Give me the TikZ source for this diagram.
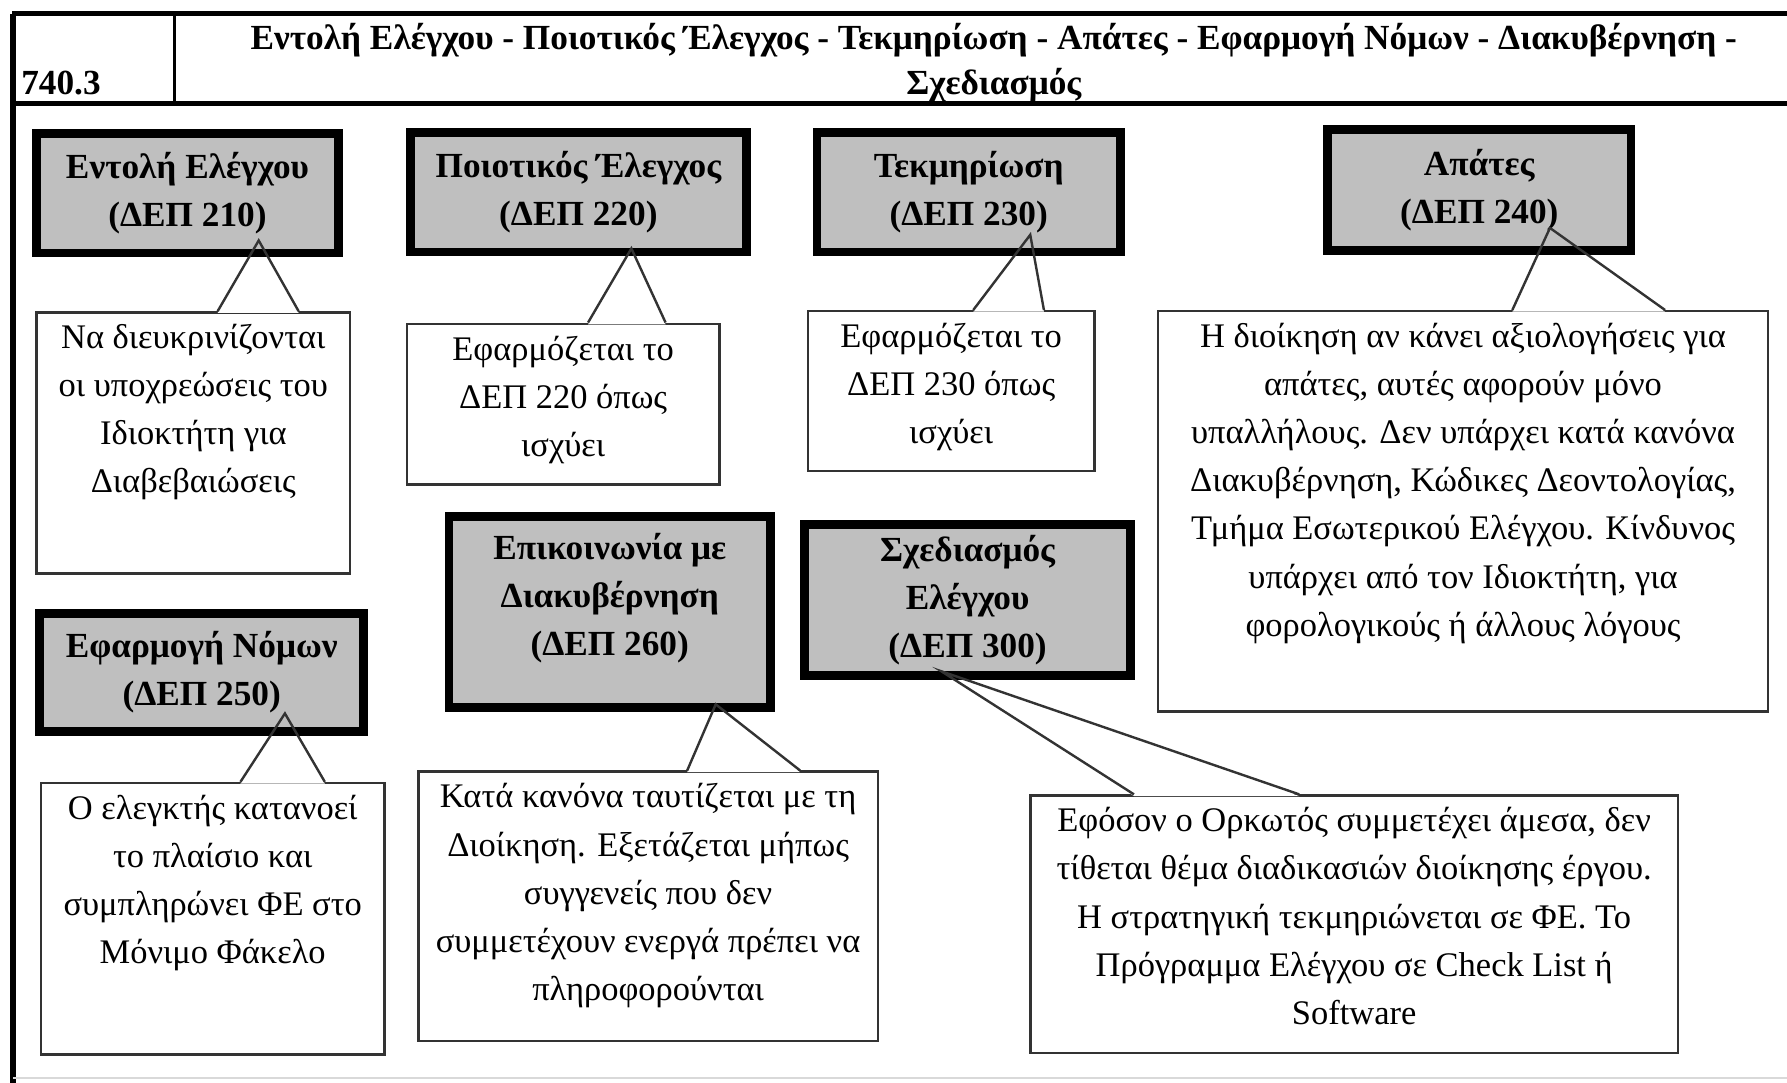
\documentclass[tikz,border=0pt]{standalone}
\usepackage{fontspec}
\setmainfont{Liberation Serif}
\usetikzlibrary{positioning,calc}

\begin{document}
\begin{tikzpicture}[
    x=0.01cm, y=-0.01cm,
    frame/.style={line width=1.2pt},
    isabox/.style={rectangle, draw, line width=2.2pt, fill=gray!50, align=center, inner sep=0pt,
                   font=\fontsize{8.8}{11.95}\selectfont\bfseries},
    note/.style={rectangle, draw=black!80, line width=0.6pt, fill=white, inner sep=0pt, anchor=north west},
    notetext/.style={align=center, inner sep=0pt, execute at begin node=\strut, font=\fontsize{8.6}{12}\selectfont},
    headtext/.style={inner sep=0pt, anchor=base, font=\fontsize{8.8}{11}\selectfont\bfseries},
    pointer/.style={draw=black!80, line width=0.6pt}
]
\useasboundingbox (0,0) rectangle (1568,950);

% frame and header row
\draw[frame, line width=1.5pt] (11.5,950) -- (11.5,12);
\draw[frame] (10.8,12) -- (1568,12);
\draw[frame] (11.5,90.5) -- (1568,90.5);
\draw[line width=0.9pt] (153,12) -- (153,90.5);
\draw[gray!30, line width=0.5pt] (11.5,946) -- (1568,946);

\node[headtext, anchor=base west] (code) at (18,83) {740.3};
\node[headtext] (title1) at (872,43) {Εντολή Ελέγχου - Ποιοτικός Έλεγχος - Τεκμηρίωση - Απάτες - Εφαρμογή Νόμων - Διακυβέρνηση -};
\node[headtext] (title2) at (872,83) {Σχεδιασμός};

% callout boxes
\node[note, minimum width=2.75cm, minimum height=2.29cm] (note210) at (31,273) {};
\node[note, minimum width=2.74cm, minimum height=1.41cm] (note220) at (356,283) {};
\node[note, minimum width=2.51cm, minimum height=1.40cm] (note230) at (708,272) {};
\node[note, minimum width=5.35cm, minimum height=3.51cm] (note240) at (1015,272) {};
\node[note, minimum width=3.01cm, minimum height=2.38cm] (note250) at (35,686) {};
\node[note, minimum width=4.03cm, minimum height=2.36cm] (note260) at (366,676) {};
\node[note, minimum width=5.68cm, minimum height=2.26cm] (note300) at (903,697) {};

\node[notetext, below=3.1pt of note210.north] (txt210) {Να διευκρινίζονται\\οι υποχρεώσεις του\\Ιδιοκτήτη για\\Διαβεβαιώσεις};
\node[notetext, below=3.1pt of note220.north] (txt220) {Εφαρμόζεται το\\ΔΕΠ 220 όπως\\ισχύει};
\node[notetext, below=3.1pt of note230.north] (txt230) {Εφαρμόζεται το\\ΔΕΠ 230 όπως\\ισχύει};
\node[notetext, below=3.1pt of note240.north] (txt240) {Η διοίκηση αν κάνει αξιολογήσεις για\\απάτες, αυτές αφορούν μόνο\\υπαλλήλους. Δεν υπάρχει κατά κανόνα\\Διακυβέρνηση, Κώδικες Δεοντολογίας,\\Τμήμα Εσωτερικού Ελέγχου. Κίνδυνος\\υπάρχει από τον Ιδιοκτήτη, για\\φορολογικούς ή άλλους λόγους};
\node[notetext, below=3.1pt of note250.north] (txt250) {Ο ελεγκτής κατανοεί\\το πλαίσιο και\\συμπληρώνει ΦΕ στο\\Μόνιμο Φάκελο};
\node[notetext, below=3.1pt of note260.north] (txt260) {Κατά κανόνα ταυτίζεται με τη\\Διοίκηση. Εξετάζεται μήπως\\συγγενείς που δεν\\συμμετέχουν ενεργά πρέπει να\\πληροφορούνται};
\node[notetext, below=3.1pt of note300.north] (txt300) {Εφόσον ο Ορκωτός συμμετέχει άμεσα, δεν\\τίθεται θέμα διαδικασιών διοίκησης έργου.\\Η στρατηγική τεκμηριώνεται σε ΦΕ. Το\\Πρόγραμμα Ελέγχου σε Check List ή\\Software};

% pointer feet on the callouts, tips inside the grey boxes
\coordinate (a210) at ($(note210.north west)+(160,0)$);
\coordinate (b210) at ($(note210.north west)+(231,0)$);
\coordinate (t210) at (227,211);
\coordinate (a220) at ($(note220.north west)+(160,0)$);
\coordinate (b220) at ($(note220.north west)+(228,0)$);
\coordinate (t220) at (554,218);
\coordinate (a230) at ($(note230.north west)+(146,0)$);
\coordinate (b230) at ($(note230.north west)+(208,0)$);
\coordinate (t230) at (904,206);
\coordinate (a240) at ($(note240.north west)+(312,0)$);
\coordinate (b240) at ($(note240.north west)+(446,0)$);
\coordinate (t240) at (1360,200);
\coordinate (a250) at ($(note250.north west)+(176,0)$);
\coordinate (b250) at ($(note250.north west)+(250,0)$);
\coordinate (t250) at (250,626);
\coordinate (a260) at ($(note260.north west)+(237,0)$);
\coordinate (b260) at ($(note260.north west)+(336,0)$);
\coordinate (t260) at (628,618);
\coordinate (a300) at ($(note300.north west)+(92,0)$);
\coordinate (b300) at ($(note300.north west)+(237,0)$);
\coordinate (t300) at (826,589);

\foreach \k in {210,220,230,240,250,260,300}
    \fill[white] ($(a\k)+(0,1.5)$) -- (t\k) -- ($(b\k)+(0,1.5)$) -- cycle;

% grey ISA boxes
\node[isabox, minimum width=2.65cm, minimum height=1.05cm] (isa210) at (164.5,169.5) {Εντολή Ελέγχου\\(ΔΕΠ 210)};
\node[isabox, minimum width=2.95cm, minimum height=1.05cm] (isa220) at (507.5,168.5) {Ποιοτικός Έλεγχος\\(ΔΕΠ 220)};
\node[isabox, minimum width=2.66cm, minimum height=1.05cm] (isa230) at (850,168.5) {Τεκμηρίωση\\(ΔΕΠ 230)};
\node[isabox, minimum width=2.66cm, minimum height=1.06cm] (isa240) at (1298,167) {Απάτες\\(ΔΕΠ 240)};
\node[isabox, minimum width=2.84cm, minimum height=1.04cm] (isa250) at (177,590) {Εφαρμογή Νόμων\\(ΔΕΠ 250)};
\node[isabox, minimum width=2.82cm, minimum height=1.68cm] (isa260) at (535,537) {Επικοινωνία με\\Διακυβέρνηση\\(ΔΕΠ 260)\\[-3pt]~};
\node[isabox, minimum width=2.86cm, minimum height=1.33cm] (isa300) at (849,526.5) {Σχεδιασμός\\Ελέγχου\\(ΔΕΠ 300)};

\foreach \k in {210,220,230,240,250,260,300}
    \draw[pointer] (a\k) -- (t\k) -- (b\k);

\end{tikzpicture}
\end{document}
